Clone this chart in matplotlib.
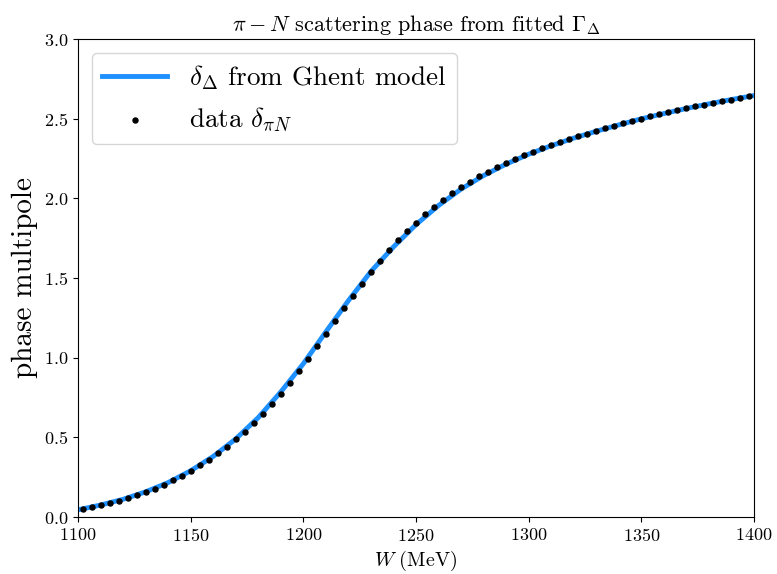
import matplotlib
matplotlib.use("Agg")
import matplotlib.pyplot as plt

# data points (delta_piN)
W_data = list(range(1102, 1399, 4))
delta_data = [0.050, 0.061, 0.073, 0.088, 0.102, 0.119, 0.138, 0.157, 0.177, 0.202,
              0.230, 0.259, 0.288, 0.325, 0.357, 0.399, 0.440, 0.487, 0.536, 0.590,
              0.647, 0.708, 0.775, 0.841, 0.916, 0.992, 1.071, 1.151, 1.230, 1.309,
              1.387, 1.464, 1.538, 1.608, 1.674, 1.736, 1.794, 1.848, 1.899, 1.947,
              1.992, 2.032, 2.070, 2.105, 2.138, 2.168, 2.197, 2.222, 2.247, 2.270,
              2.293, 2.314, 2.333, 2.352, 2.370, 2.389, 2.406, 2.423, 2.439, 2.454,
              2.471, 2.486, 2.500, 2.514, 2.527, 2.539, 2.552, 2.565, 2.577, 2.588,
              2.598, 2.608, 2.619, 2.632, 2.642]

# Ghent model curve (delta_Delta)
W_model = list(range(1100, 1401, 10))
delta_model = [0.045, 0.075, 0.111, 0.158, 0.216, 0.290, 0.380, 0.490, 0.624, 0.785,
               0.962, 1.162, 1.358, 1.541, 1.695, 1.835, 1.955, 2.058, 2.143, 2.215,
               2.277, 2.330, 2.378, 2.421, 2.461, 2.499, 2.532, 2.564, 2.593, 2.620,
               2.645]

plt.rcParams['font.family'] = 'serif'
plt.rcParams['font.serif'] = ['cmr10', 'DejaVu Serif']
plt.rcParams['mathtext.fontset'] = 'cm'
plt.rcParams['axes.formatter.use_mathtext'] = True

fig = plt.figure(figsize=(7.77, 5.74), dpi=100)
ax = fig.add_axes([78/777, 1 - 517/574, 676/777, 478/574])

ax.plot(W_model, delta_model, color='#1e90ff', linewidth=3.5, label=r'$\delta_\Delta$ from Ghent model')
ax.scatter(W_data, delta_data, s=13, color='black', zorder=3, label=r'data $\delta_{\pi N}$')

ax.set_xlim(1100, 1400)
ax.set_ylim(0, 3.0)
ax.set_xlabel(r'$W\ $(MeV)', fontsize=14.5)
ax.set_ylabel('phase multipole', fontsize=21)
ax.set_title(r'$\pi - N$ scattering phase from fitted $\Gamma_\Delta$', fontsize=16)
ax.tick_params(labelsize=13)
ax.legend(loc='upper left', fontsize=19.5, handlelength=2.4)

fig.savefig('out.png', dpi=100)
